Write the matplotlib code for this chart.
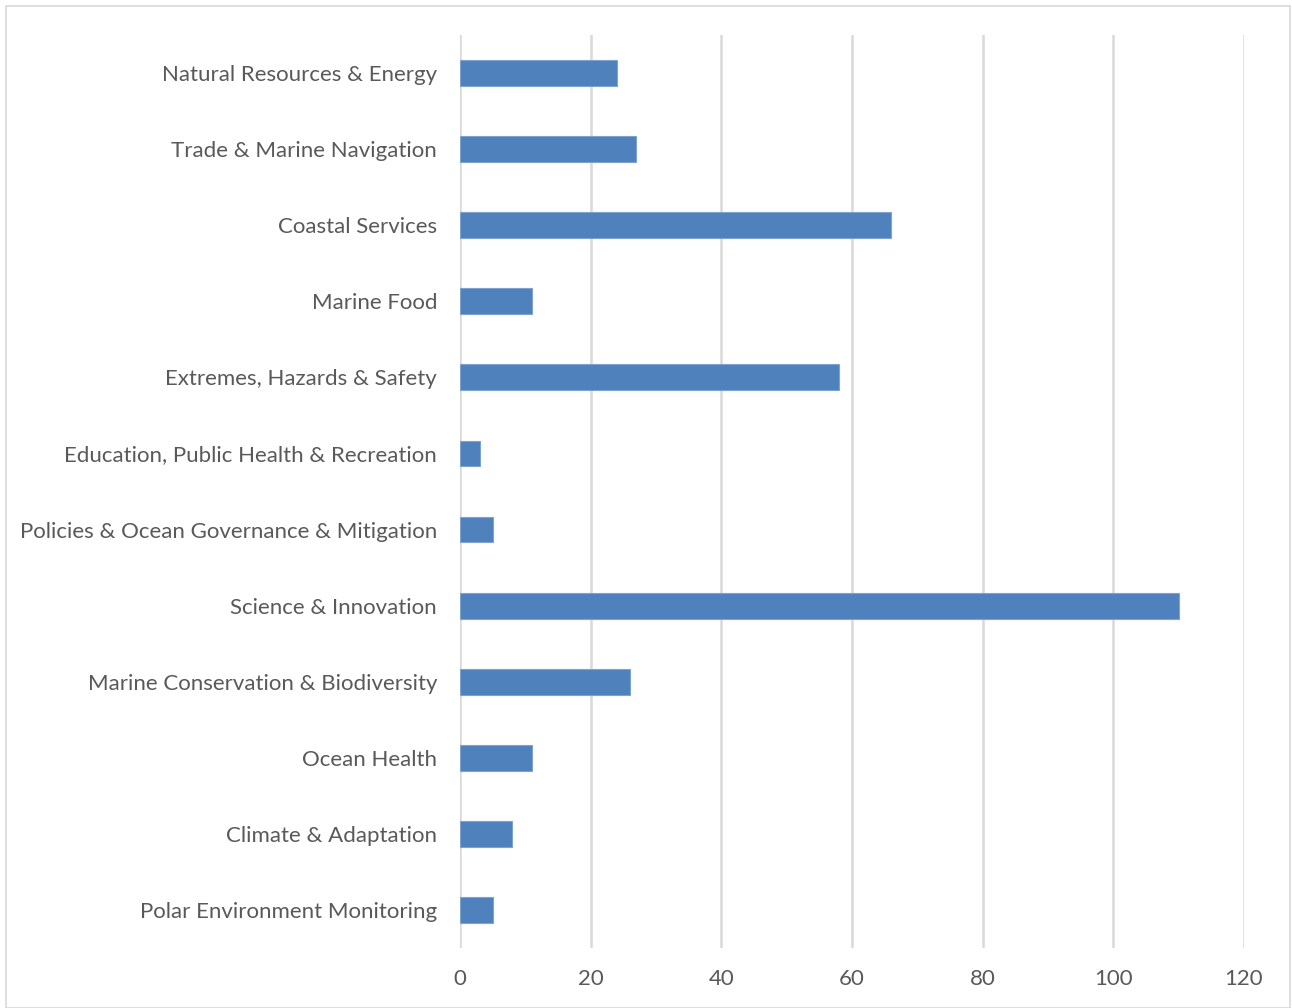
import matplotlib
matplotlib.use("Agg")
import matplotlib.pyplot as plt
from matplotlib.patches import Rectangle

categories = [
    "Natural Resources & Energy",
    "Trade & Marine Navigation",
    "Coastal Services",
    "Marine Food",
    "Extremes, Hazards & Safety",
    "Education, Public Health & Recreation",
    "Policies & Ocean Governance & Mitigation",
    "Science & Innovation",
    "Marine Conservation & Biodiversity",
    "Ocean Health",
    "Climate & Adaptation",
    "Polar Environment Monitoring",
]
counts = [24, 27, 66, 11, 58, 3, 5, 110, 26, 11, 8, 5]
xticks = [0, 20, 40, 60, 80, 100, 120]

plt.rcParams["font.family"] = ["Lato", "DejaVu Sans"]
text_color = "#595959"

fig = plt.figure(figsize=(12.92, 10.08), dpi=100)
ax = fig.add_axes([460 / 1292, 60 / 1008, 784 / 1292, 913 / 1008])

pos = list(range(len(categories)))
ax.barh(pos, counts, height=0.34, color="#4F81BD", edgecolor="#7FA3D0",
        linewidth=0.8, zorder=3)

ax.set_ylim(len(categories) - 0.5, -0.5)
ax.set_yticks(pos)
ax.set_yticklabels(categories)
ax.set_xlim(0, 120)
ax.set_xticks(xticks)

ax.grid(axis="x", color="#D9D9D9", linewidth=1.8, zorder=0)
ax.set_axisbelow(True)
for s in ax.spines.values():
    s.set_visible(False)
ax.tick_params(axis="both", length=0, labelsize=16, labelcolor=text_color)
ax.tick_params(axis="y", pad=16.5)
ax.tick_params(axis="x", pad=15)

# chart border
fig.patches.append(Rectangle((6 / 1292, 0), 1284 / 1292, 1002 / 1008,
                             transform=fig.transFigure, fill=False,
                             edgecolor="#D9D9D9", linewidth=1.2))

fig.savefig("out.png", dpi=100)
